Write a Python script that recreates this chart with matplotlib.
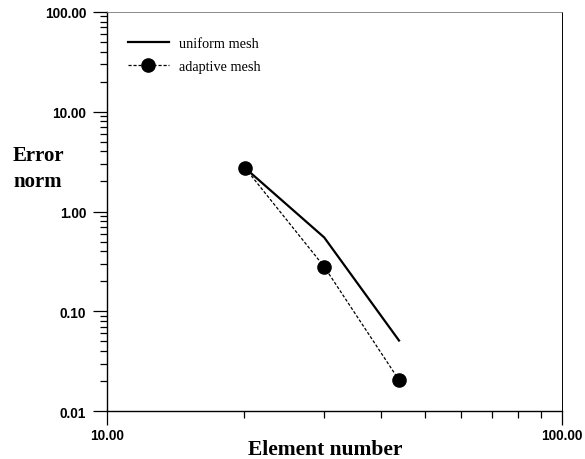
import matplotlib.pyplot as plt
from matplotlib.ticker import FixedLocator, FixedFormatter, LogLocator, NullFormatter

# data
elements = [20.1, 30.0, 43.8]
uniform_err = [2.73, 0.55, 0.051]
adaptive_err = [2.73, 0.28, 0.0205]

x_ticks = [10, 100]
x_labels = ['10.00', '100.00']
y_ticks = [0.01, 0.1, 1, 10, 100]
y_labels = ['0.01', '0.10', '1.00', '10.00', '100.00']

fig = plt.figure(figsize=(5.85, 4.6), dpi=100)
ax = fig.add_axes([0.183, 0.104, 0.778, 0.868])

ax.plot(elements, uniform_err, color='black', lw=1.6, label='uniform mesh')
ax.plot(elements, adaptive_err, color='black', lw=0.9, ls=(0, (2.5, 1.5)),
        marker='o', ms=9.5, label='adaptive mesh')

ax.set_xscale('log')
ax.set_yscale('log')
ax.set_xlim(10, 100)
ax.set_ylim(0.01, 100)

ax.xaxis.set_major_locator(FixedLocator(x_ticks))
ax.xaxis.set_major_formatter(FixedFormatter(x_labels))
ax.yaxis.set_major_locator(FixedLocator(y_ticks))
ax.yaxis.set_major_formatter(FixedFormatter(y_labels))
ax.xaxis.set_minor_locator(LogLocator(base=10, subs=range(2, 10)))
ax.yaxis.set_minor_locator(LogLocator(base=10, subs=range(2, 10)))
ax.xaxis.set_minor_formatter(NullFormatter())
ax.yaxis.set_minor_formatter(NullFormatter())

ax.tick_params(which='major', direction='out', length=10, width=0.9, color='black')
ax.tick_params(which='minor', direction='out', length=5, width=0.9, color='black')
ax.tick_params(axis='y', which='major', pad=5)
ax.tick_params(axis='x', which='major', pad=2)
for lab in ax.get_xticklabels() + ax.get_yticklabels():
    lab.set_fontfamily('Liberation Sans')
    lab.set_fontweight('bold')
    lab.set_fontsize(9.8)

for s in ['left', 'bottom']:
    ax.spines[s].set_linewidth(1.0)
ax.spines['top'].set_linewidth(0.6)
ax.spines['top'].set_color('#777777')
ax.spines['right'].set_linewidth(0.7)

fig.text(0.556, 0.011, 'Element number', family='Liberation Serif', weight='bold', fontsize=15.5,
         ha='center', va='baseline')
fig.text(0.065, 0.632, 'Error\nnorm', family='Liberation Serif', weight='bold', fontsize=15,
         ha='center', va='center', linespacing=1.4)

ax.legend(loc='upper left', bbox_to_anchor=(0.03, 0.954), frameon=False,
          prop={'family': 'Liberation Serif', 'size': 10.3},
          handlelength=2.85, handletextpad=0.7, labelspacing=0.7, borderpad=0)

fig.savefig('out.png', dpi=100)
